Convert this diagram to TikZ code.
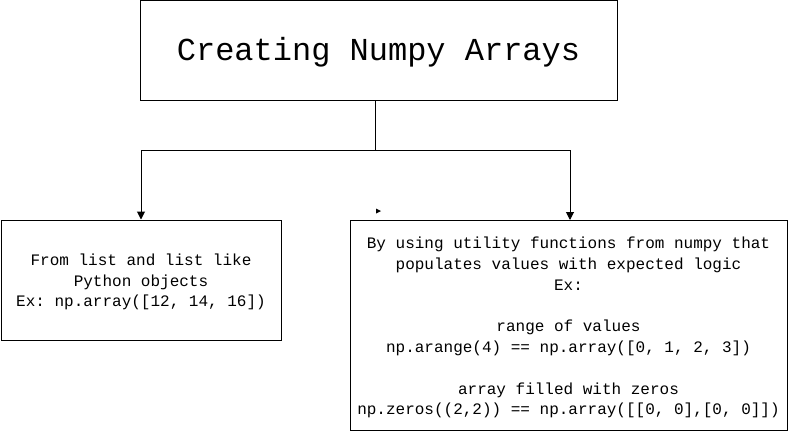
\documentclass[tikz,border=0pt]{standalone}
\usepackage{fontspec}
\setmonofont{Liberation Mono}
\usetikzlibrary{arrows.meta}
\begin{document}
\begin{tikzpicture}[x=1pt,y=-1pt,
  box/.style={draw=black,line width=1pt,rectangle,inner sep=0pt},
  txt/.style={inner sep=0pt,align=center,font=\ttfamily\fontsize{16}{20.8}\selectfont},
  conn/.style={draw=black,line width=1pt,-{Triangle[length=8pt,width=8pt]}}]
\useasboundingbox[fill=white] (0,0) rectangle (788,431);
\node[box,minimum width=477pt,minimum height=100pt] (top) at (378.5,50.5) {};
\node[txt,font=\ttfamily\fontsize{32}{38}\selectfont] (toptext) at ([yshift=-2pt]top.center) {Creating Numpy Arrays};
\node[box,minimum width=280pt,minimum height=120pt] (left) at (141,280) {};
\node[txt] (lefttext) at ([yshift=-2pt]left.center) {From list and list like\\Python objects\\Ex: np.array([12, 14, 16])};
\node[box,minimum width=437pt,minimum height=210pt] (right) at (568.5,325.5) {};
\node[txt] (righttext) at ([yshift=-2pt]right.center) {By using utility functions from numpy that\\populates values with expected logic\\Ex:\\[20.8pt]range of values\\np.arange(4) == np.array([0, 1, 2, 3])\\[20.8pt]array filled with zeros\\np.zeros((2,2)) == np.array([[0, 0],[0, 0]])};
\coordinate (split) at (375,150);
\draw[line width=1pt] ([xshift=-3.5pt]top.south) -- (split);
\draw[conn] (split) -| (left.north);
\draw[conn] (split) -| ([xshift=1.5pt]right.north);
\coordinate (stray) at (377,211);
\fill[black] (stray) ++(-1,-2.5) -- ++(5,2.5) -- ++(-5,2.5) -- cycle;
\end{tikzpicture}
\end{document}
